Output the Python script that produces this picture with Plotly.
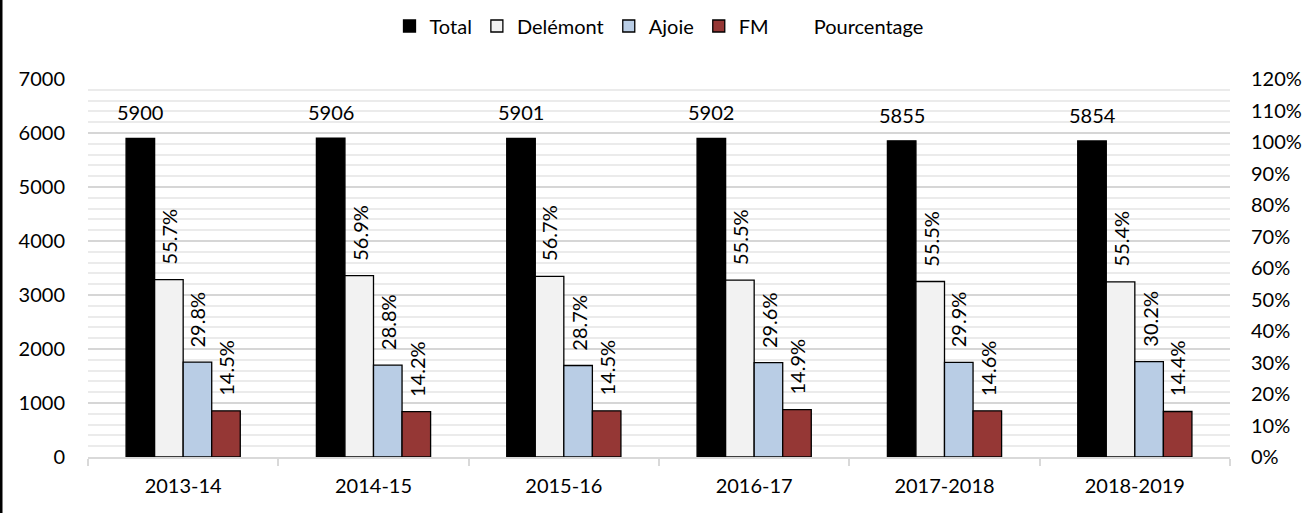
import plotly.graph_objects as go

categories = ["2013-14", "2014-15", "2015-16", "2016-17", "2017-2018", "2018-2019"]
total = [5900, 5906, 5901, 5902, 5855, 5854]
delemont = [3286, 3360, 3346, 3276, 3250, 3243]
ajoie = [1758, 1701, 1694, 1747, 1751, 1768]
fm = [856, 839, 856, 879, 855, 843]
pct_delemont = ["55.7%", "56.9%", "56.7%", "55.5%", "55.5%", "55.4%"]
pct_ajoie = ["29.8%", "28.8%", "28.7%", "29.6%", "29.9%", "30.2%"]
pct_fm = ["14.5%", "14.2%", "14.5%", "14.9%", "14.6%", "14.4%"]
left_ticks = [0, 1000, 2000, 3000, 4000, 5000, 6000, 7000]
right_ticks = [0.0, 0.1, 0.2, 0.3, 0.4, 0.5, 0.6, 0.7, 0.8, 0.9, 1.0, 1.1, 1.2]

FONT = "Lato, 'Open Sans', sans-serif"
FS = 20

fig = go.Figure()
series = [
    ("Total", total, "#000000"),
    ("Delémont", delemont, "#f2f2f2"),
    ("Ajoie", ajoie, "#b9cde5"),
    ("FM", fm, "#953735"),
]
for name, vals, col in series:
    fig.add_trace(go.Bar(
        x=categories, y=vals, name=name,
        marker=dict(color=col, line=dict(color="#000000", width=1.3)),
        yaxis="y",
    ))

fig.add_trace(go.Scatter(
    x=categories, y=[None] * len(categories), name="Pourcentage",
    mode="lines", line=dict(width=0, color="rgba(0,0,0,0)"), yaxis="y2",
))

annotations = []
offsets = [-0.225, -0.075, 0.075, 0.225]
for i, v in enumerate(total):
    annotations.append(dict(
        x=i + offsets[0], y=v, xref="x", yref="y", text=str(v),
        showarrow=False, yanchor="bottom", xanchor="center", yshift=12,
        font=dict(family=FONT, size=FS, color="#000000"),
    ))
for vals, labels, off in [(delemont, pct_delemont, offsets[1]),
                          (ajoie, pct_ajoie, offsets[2]),
                          (fm, pct_fm, offsets[3])]:
    for i, (v, t) in enumerate(zip(vals, labels)):
        annotations.append(dict(
            x=i + off, y=v, xref="x", yref="y", text=t, textangle=-90,
            showarrow=False, yanchor="bottom", xanchor="center", yshift=13,
            font=dict(family=FONT, size=FS, color="#000000"),
        ))

fig.update_layout(
    width=1309, height=513,
    margin=dict(l=88, r=79, t=79, b=56, autoexpand=False),
    paper_bgcolor="#ffffff", plot_bgcolor="#ffffff",
    font=dict(family=FONT, size=FS, color="#000000"),
    barmode="group", bargap=0.4, bargroupgap=0,
    showlegend=True,
    legend=dict(orientation="h", x=0.5, xanchor="center", y=1 + 53.0 / 378, yanchor="middle",
                font=dict(family=FONT, size=FS), itemwidth=30, bgcolor="rgba(0,0,0,0)",
                traceorder="normal"),
    xaxis=dict(
        type="category", range=[-0.5, 5.5],
        showline=True, linecolor="#d9d9d9", linewidth=1.5,
        ticks="outside", tickson="boundaries", ticklen=7, tickcolor="#d9d9d9", tickwidth=1.5,
        showgrid=False, ticklabelstandoff=10, automargin=False,
        tickfont=dict(family=FONT, size=FS),
    ),
    yaxis=dict(
        range=[0, 7000], tickvals=left_ticks, ticktext=[str(t) for t in left_ticks],
        showgrid=True, gridcolor="#d6d6d6", gridwidth=1.8,
        minor=dict(dtick=200, showgrid=True, gridcolor="#ebebeb", gridwidth=1.8),
        zeroline=False, showline=False, ticks="", ticklabelstandoff=22, automargin=False,
        tickfont=dict(family=FONT, size=FS),
    ),
    yaxis2=dict(
        range=[0, 1.2], tickvals=right_ticks, tickformat=".0%",
        overlaying="y", side="right", showgrid=False, zeroline=False,
        showline=False, ticks="", ticklabelstandoff=20, automargin=False,
        tickfont=dict(family=FONT, size=FS),
    ),
    annotations=annotations,
    shapes=[dict(type="line", xref="paper", yref="paper",
                 x0=-87.0 / 1142, x1=-87.0 / 1142, y0=-56.0 / 378, y1=1 + 79.0 / 378,
                 line=dict(color="#000000", width=3))],
)

fig.write_html("out.html", config={"displayModeBar": False},
               post_script="document.body.style.margin='0';document.body.style.padding='0';")
